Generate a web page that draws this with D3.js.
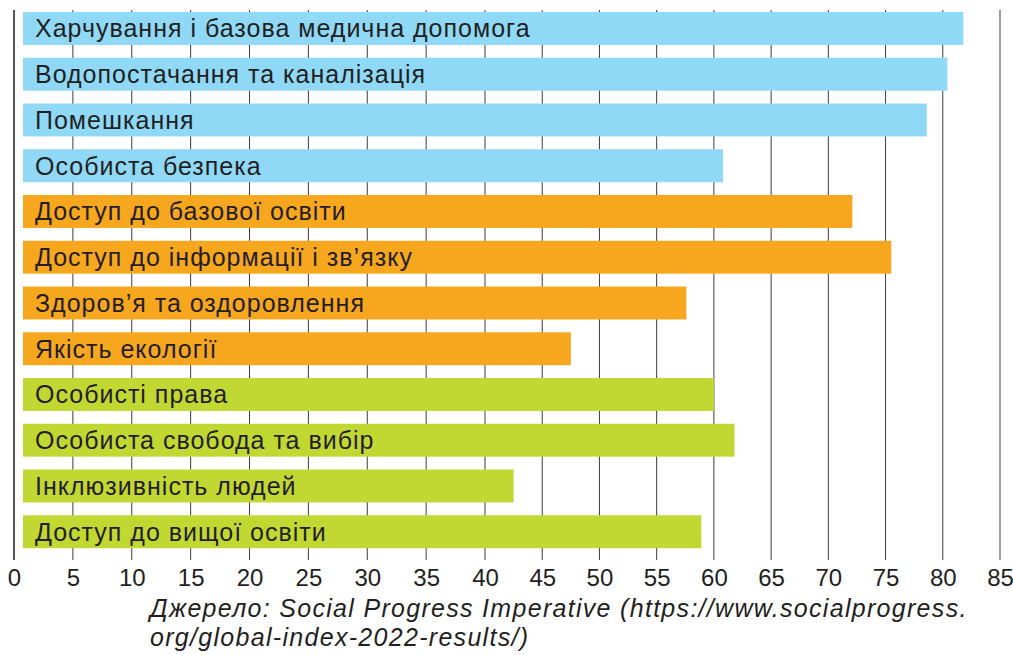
<!DOCTYPE html>
<html>
<head>
<meta charset="utf-8">
<script src="https://cdn.jsdelivr.net/npm/d3@7"></script>
<style>
  html, body { margin: 0; padding: 0; background: #fff; }
  svg { display: block; font-family: "Liberation Sans", Arial, Helvetica, sans-serif; }
</style>
</head>
<body>
<svg id="chart" width="1013" height="655"></svg>
<script>
// Social Progress Index 2022 components (Ukraine)
const categories = [
  "Харчування і базова медична допомога",
  "Водопостачання та каналізація",
  "Помешкання",
  "Особиста безпека",
  "Доступ до базової освіти",
  "Доступ до інформації і зв’язку",
  "Здоров’я та оздоровлення",
  "Якість екології",
  "Особисті права",
  "Особиста свобода та вибір",
  "Інклюзивність людей",
  "Доступ до вищої освіти"
];
const values = [81.8, 80.4, 78.6, 60.8, 72.1, 75.5, 57.6, 47.5, 60.0, 61.8, 42.5, 58.9];
const groups = ["basic", "basic", "basic", "basic",
                "wellbeing", "wellbeing", "wellbeing", "wellbeing",
                "opportunity", "opportunity", "opportunity", "opportunity"];
const groupNames = ["basic", "wellbeing", "opportunity"];
const groupColors = ["#8fd9f7", "#f7a71e", "#c2d832"];
const tickValues = [0, 5, 10, 15, 20, 25, 30, 35, 40, 45, 50, 55, 60, 65, 70, 75, 80, 85];
const sourceLines = [
  "Джерело: Social Progress Imperative (https://www.socialprogress.",
  "org/global-index-2022-results/)"
];

const svg = d3.select("#chart");

// the printed axis is slightly wider on its left half
const x = d3.scaleLinear().domain([0, 40, 85]).range([14, 485, 1000]);
const y = d3.scaleBand().domain(categories).range([5.6, 554.6])
  .paddingInner(0.28).paddingOuter(0.14);
const color = d3.scaleOrdinal().domain(groupNames).range(groupColors);

const gridTop = 10, gridBottom = 560;

// vertical grid lines behind the bars, extending below as ticks
svg.append("g")
  .selectAll("line")
  .data(tickValues.slice(1))
  .join("line")
  .attr("x1", d => x(d)).attr("x2", d => x(d))
  .attr("y1", gridTop).attr("y2", gridBottom)
  .attr("stroke", d => d === 85 ? "#888" : "#3c3c3c")
  .attr("stroke-width", d => d === 85 ? 1.6 : 1);

// left axis line
svg.append("line")
  .attr("x1", x(0)).attr("x2", x(0))
  .attr("y1", gridTop).attr("y2", gridBottom)
  .attr("stroke", "#2a2a2a").attr("stroke-width", 1.6);

// bars start slightly inside the axis line
const barInset = 9;
svg.append("g")
  .selectAll("rect")
  .data(categories)
  .join("rect")
  .attr("x", x(0) + barInset)
  .attr("y", d => y(d))
  .attr("width", (d, i) => x(values[i]) - x(0) - barInset)
  .attr("height", y.bandwidth())
  .attr("fill", (d, i) => color(groups[i]));

// category labels inside the bars
svg.append("g")
  .selectAll("text")
  .data(categories)
  .join("text")
  .attr("x", 35)
  .attr("y", d => y(d) + y.bandwidth() / 2)
  .attr("dy", "0.36em")
  .attr("font-size", 25)
  .attr("letter-spacing", 1)
  .attr("fill", "#231f20")
  .text(d => d);

// bottom axis labels
const axis = d3.axisBottom(x).tickValues(tickValues).tickSize(0).tickPadding(0);
const gx = svg.append("g").attr("transform", `translate(0,${gridBottom})`).call(axis);
gx.select(".domain").remove();
gx.selectAll("text")
  .attr("font-size", 24)
  .attr("font-family", "'Liberation Sans', Arial, sans-serif")
  .attr("fill", "#231f20")
  .attr("y", 26)
  .attr("dy", 0);

// source note
svg.append("g")
  .selectAll("text")
  .data(sourceLines)
  .join("text")
  .attr("x", 150)
  .attr("y", (d, i) => 617 + i * 29)
  .attr("font-size", 25)
  .attr("letter-spacing", 1.3)
  .attr("font-style", "italic")
  .attr("fill", "#231f20")
  .text(d => d);
</script>
</body>
</html>
